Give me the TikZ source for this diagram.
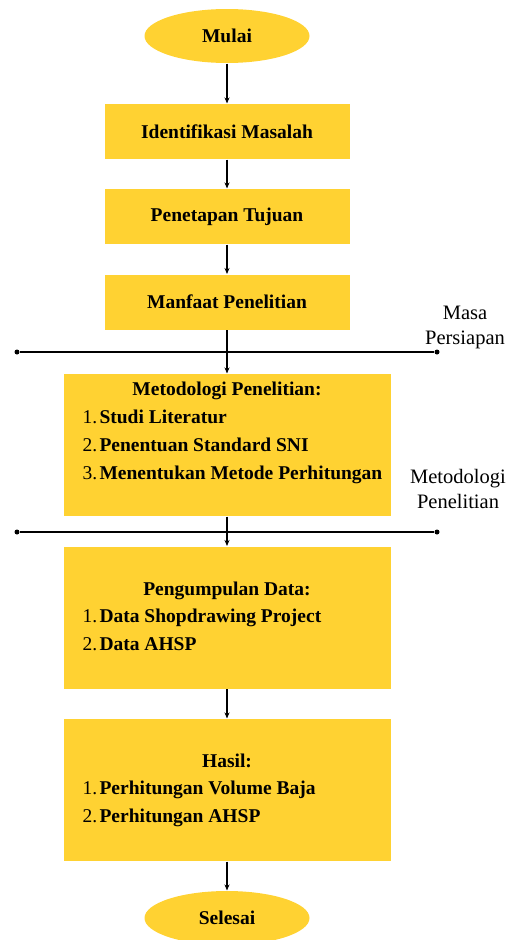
\documentclass[tikz,border=0pt]{standalone}
\usepackage{fontspec}
\setmainfont{Liberation Serif}
\usetikzlibrary{positioning, arrows.meta, shapes.geometric}

\definecolor{kuning}{RGB}{255,210,50}
\newcommand{\ukuran}{\fontsize{19.5}{28}\selectfont}
\newcommand{\nomor}[1]{\makebox[17pt][l]{\mdseries #1}}

\begin{document}
\begin{tikzpicture}[
    x=1pt, y=-1pt,
    terminal/.style={ellipse, fill=kuning, minimum width=165pt, minimum height=54pt,
                     inner sep=0pt, font=\ukuran\bfseries},
    proses/.style={rectangle, fill=kuning, minimum width=245pt, minimum height=55pt,
                   inner sep=0pt, font=\ukuran\bfseries},
    besar/.style={rectangle, fill=kuning, minimum width=327pt, minimum height=142pt,
                  inner sep=0pt},
    judul/.style={font=\ukuran\bfseries, inner sep=0pt, anchor=base},
    daftar/.style={font=\ukuran\bfseries, inner sep=0pt, anchor=base west},
    ket/.style={font=\fontsize{20.5}{25}\selectfont, align=center, inner sep=0pt},
    titik/.style={circle, fill=black, inner sep=0pt, minimum size=5pt},
    >={Stealth[length=6pt, width=5pt]},
    line width=1.1pt
]
\useasboundingbox (0,0) rectangle (508,940);

%% --- Mulai & tahap persiapan ---
\node[terminal] (mulai)   at (227, 36)  {Mulai};
\node[proses]   (masalah) at (227,131.5) {Identifikasi Masalah};
\node[proses]   (tujuan)  at (227,216.5) {Penetapan Tujuan};
\node[proses]   (manfaat) at (227,302)  {Manfaat Penelitian};

%% --- Garis batas ---
\node[titik] (kiri1)  at (17,352)  {};
\node[titik] (kanan1) at (437,352) {};
\node[titik] (kiri2)  at (17,532)  {};
\node[titik] (kanan2) at (437,532) {};
\draw (kiri1) -- (kanan1);
\draw (kiri2) -- (kanan2);

\node[ket] (persiapan)  at (465,327) {Masa\\Persiapan};
\node[ket] (metodologi) at (458,489) {Metodologi\\Penelitian};

%% --- Kotak besar ---
\node[besar] (metode) at (227,445)   {};
\node[besar] (data)   at (227,617.5) {};
\node[besar] (hasil)  at (227,790)   {};

\node[judul] (metode_j) at (227,395) {Metodologi Penelitian:};
\node[daftar] (metode_d) at (82,423) {\begin{tabular}[t]{@{}l@{}}
    \nomor{1.}Studi Literatur\\
    \nomor{2.}Penentuan Standard SNI\\
    \nomor{3.}Menentukan Metode Perhitungan
  \end{tabular}};

\node[judul] (data_j) at (227,595) {Pengumpulan Data:};
\node[daftar] (data_d) at (82,622) {\begin{tabular}[t]{@{}l@{}}
    \nomor{1.}Data Shopdrawing Project\\
    \nomor{2.}Data AHSP
  \end{tabular}};

\node[judul] (hasil_j) at (227,767) {Hasil:};
\node[daftar] (hasil_d) at (82,794) {\begin{tabular}[t]{@{}l@{}}
    \nomor{1.}Perhitungan Volume Baja\\
    \nomor{2.}Perhitungan AHSP
  \end{tabular}};

\node[terminal] (selesai) at (227,918) {Selesai};

%% --- Panah ---
\draw[->] (mulai)   -- (masalah);
\draw[->] (masalah) -- (tujuan);
\draw[->] (tujuan)  -- (manfaat);
\draw[->] (manfaat) -- (metode);
\draw[->] (metode)  -- (data);
\draw[->] (data)    -- (hasil);
\draw[->] (hasil)   -- (selesai);

\end{tikzpicture}
\end{document}
